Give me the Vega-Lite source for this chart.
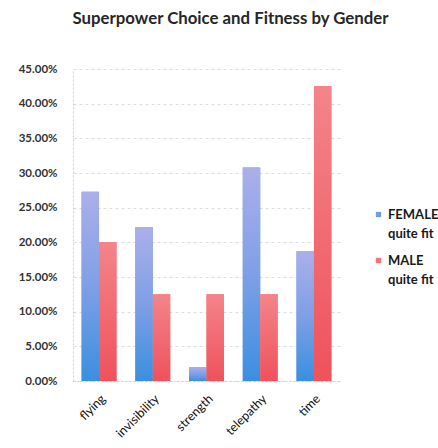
{
  "$schema": "https://vega.github.io/schema/vega-lite/v6.json",
  "autosize": {"type": "none"},
  "width": 267,
  "height": 312,
  "padding": {"left": 73, "top": 69, "right": 98, "bottom": 67},
  "background": "white",
  "config": {
    "view": {"stroke": null},
    "style": {"guide-label": {"lineHeight": 19}}
  },
  "title": {
    "text": "Superpower Choice and Fitness by Gender",
    "anchor": "middle",
    "frame": "group",
    "dx": 24,
    "offset": 35,
    "font": "Lato",
    "fontSize": 16.8,
    "fontWeight": "bold",
    "color": "#262626"
  },
  "data": {
    "values": [
      {"power": "flying", "gender": "FEMALE quite fit", "share": 0.273},
      {"power": "flying", "gender": "MALE quite fit", "share": 0.20},
      {"power": "invisibility", "gender": "FEMALE quite fit", "share": 0.222},
      {"power": "invisibility", "gender": "MALE quite fit", "share": 0.125},
      {"power": "strength", "gender": "FEMALE quite fit", "share": 0.02},
      {"power": "strength", "gender": "MALE quite fit", "share": 0.125},
      {"power": "telepathy", "gender": "FEMALE quite fit", "share": 0.308},
      {"power": "telepathy", "gender": "MALE quite fit", "share": 0.125},
      {"power": "time", "gender": "FEMALE quite fit", "share": 0.187},
      {"power": "time", "gender": "MALE quite fit", "share": 0.425}
    ]
  },
  "encoding": {
    "x": {
      "field": "power",
      "type": "nominal",
      "sort": ["flying", "invisibility", "strength", "telepathy", "time"],
      "scale": {"paddingInner": 0.35, "paddingOuter": 0.16},
      "axis": {
        "title": null,
        "labelAngle": -45,
        "labelFont": "Lato",
        "labelFontSize": 12.5,
        "labelColor": "#111111",
        "labelPadding": 11,
        "ticks": false,
        "domain": true,
        "domainColor": "#cfcfcf",
        "domainDash": [2, 2]
      }
    },
    "xOffset": {
      "field": "gender",
      "type": "nominal",
      "sort": ["FEMALE quite fit", "MALE quite fit"],
      "scale": {"paddingInner": 0, "paddingOuter": 0}
    },
    "y": {
      "field": "share",
      "type": "quantitative",
      "scale": {"domain": [0, 0.45], "nice": false},
      "axis": {
        "title": null,
        "format": ".2%",
        "values": [0, 0.05, 0.1, 0.15, 0.2, 0.25, 0.3, 0.35, 0.4, 0.45],
        "labelFont": "Lato",
        "labelFontSize": 11.5,
        "labelFontWeight": "bold",
        "labelColor": "#333333",
        "labelPadding": 16,
        "ticks": false,
        "tickSize": 0,
        "domain": true,
        "domainColor": "#d0d0d0",
        "domainDash": [2, 2],
        "grid": true,
        "gridColor": "#dcdcdc",
        "gridDash": [3, 3]
      }
    }
  },
  "layer": [
    {
      "mark": {"type": "bar"},
      "encoding": {
        "color": {
          "field": "gender",
          "type": "nominal",
          "sort": ["FEMALE quite fit", "MALE quite fit"],
          "scale": {"range": ["#6f9ee6", "#f2737b"]},
          "legend": {
            "title": null,
            "orient": "none",
            "legendX": 299,
            "legendY": 139,
            "symbolType": "square",
            "symbolSize": 28,
            "labelFont": "Lato",
            "labelFontSize": 13,
            "labelFontWeight": "bold",
            "labelColor": "#1a1a1a",
            "labelExpr": "[split(datum.label, ' ')[0], 'quite fit']",
            "rowPadding": 13,
            "labelOffset": 3
          }
        }
      }
    },
    {
      "transform": [{"filter": "datum.gender == 'FEMALE quite fit'"}],
      "mark": {
        "type": "bar",
        "color": {
          "gradient": "linear",
          "x1": 0, "y1": 0, "x2": 0, "y2": 1,
          "stops": [
            {"offset": 0, "color": "#abafea"},
            {"offset": 0.5, "color": "#7f9fe6"},
            {"offset": 1, "color": "#3a8fe0"}
          ]
        }
      }
    },
    {
      "transform": [{"filter": "datum.gender == 'MALE quite fit'"}],
      "mark": {
        "type": "bar",
        "color": {
          "gradient": "linear",
          "x1": 0, "y1": 0, "x2": 0, "y2": 1,
          "stops": [
            {"offset": 0, "color": "#f4848a"},
            {"offset": 1, "color": "#ef525b"}
          ]
        }
      }
    }
  ]
}
